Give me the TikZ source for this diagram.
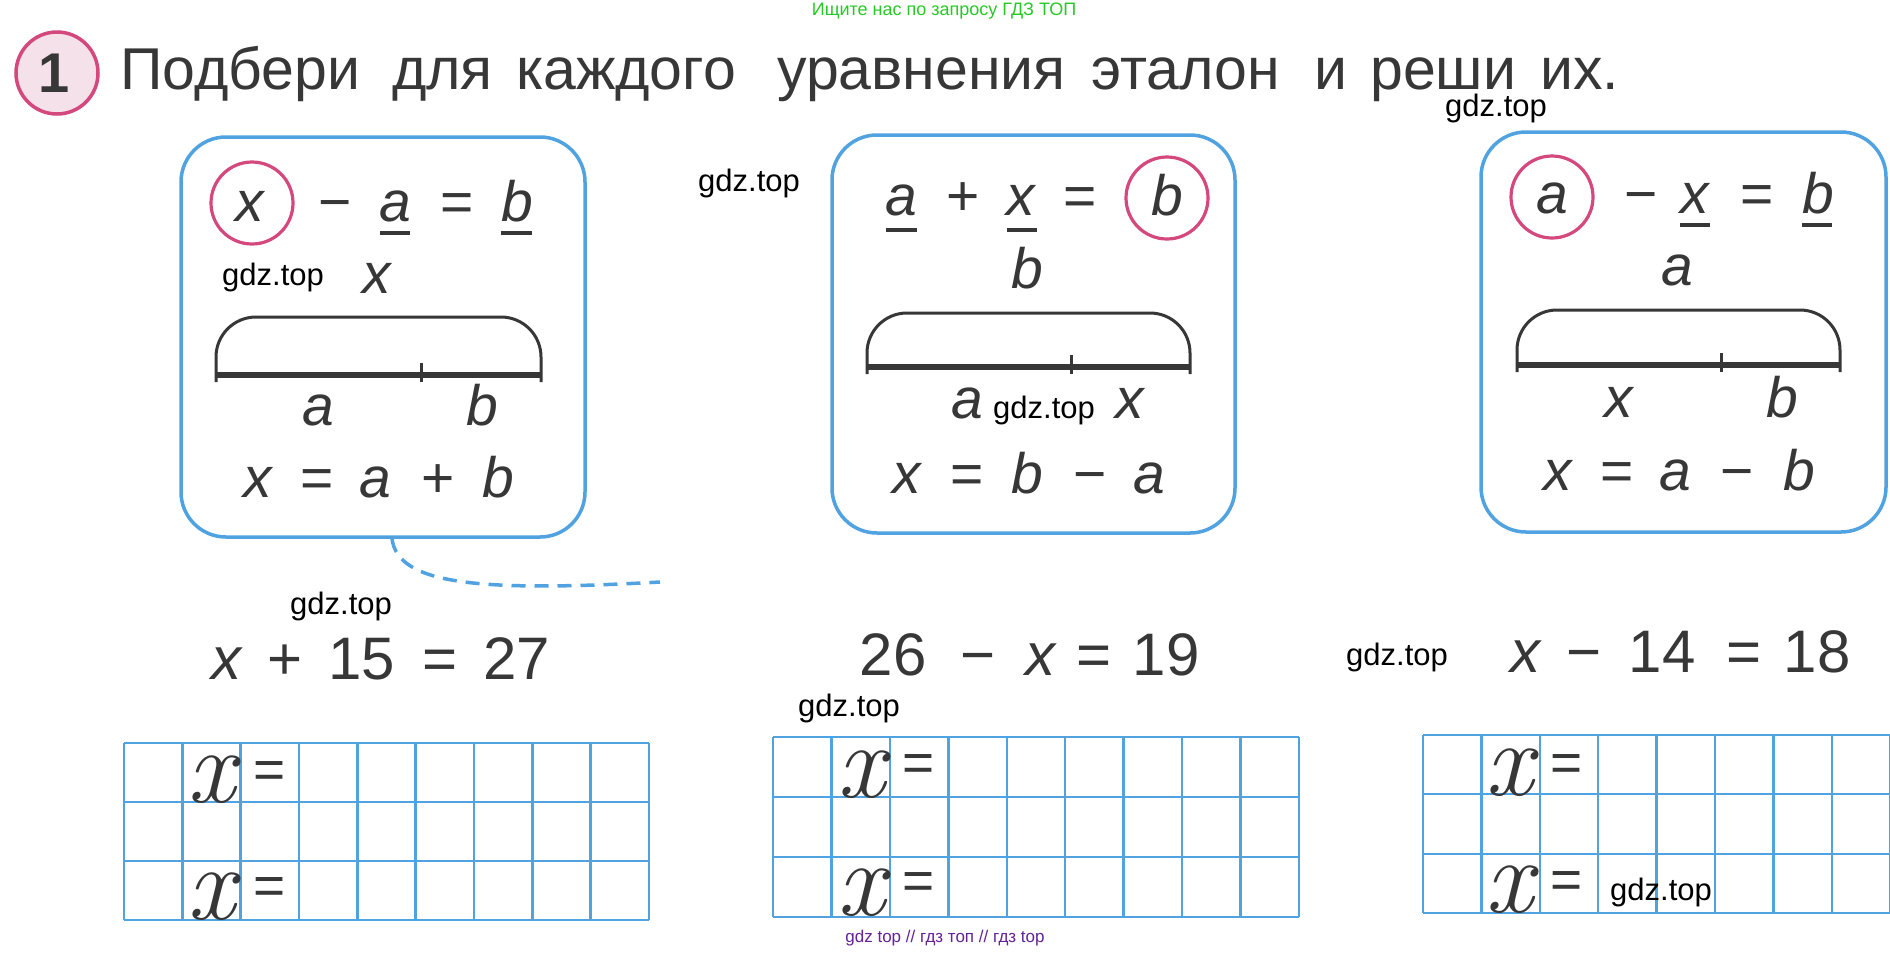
\documentclass[tikz,border=0pt]{standalone}
\usepackage{fontspec}
\setmainfont{Liberation Sans}
\newfontfamily\lmroman{Latin Modern Roman}
\definecolor{ink}{RGB}{55,55,55}
\definecolor{boxblue}{RGB}{80,163,224}
\definecolor{ringpink}{RGB}{212,72,125}
\definecolor{pinkfill}{RGB}{245,225,233}
\definecolor{wmgreen}{RGB}{40,200,40}
\definecolor{wmpurple}{RGB}{100,35,150}
\newcommand\fs[1]{\fontsize{#1}{#1}\selectfont}
\newcommand\segbr[5]{%
  \draw[brk] (#1,#4+7) -- (#1,#3) -- (#2,#3) -- (#2,#4+7);
  \draw[segline] (#1,#4) -- (#2,#4);
  \draw[ticksty] (#5,#4-12) -- (#5,#4+7);
}
\tikzset{
  etalon/.style={draw=boxblue, line width=3.5pt, rounded corners=45pt, inner sep=0pt},
  ring/.style={circle, draw=ringpink, line width=3.2pt, minimum size=82pt, inner sep=0pt},
  numring/.style={circle, draw=ringpink, fill=pinkfill, line width=3.5pt, minimum size=82pt, inner sep=0pt},
  numtxt/.style={anchor=base, inner sep=0pt, text=ink, font={\fs{56}\bfseries}},
  title/.style={anchor=base west, inner sep=0pt, text=ink, font={\fs{59}}},
  var/.style={anchor=base, inner sep=0pt, text=ink, font={\fs{57}\itshape}},
  op/.style={anchor=base, inner sep=0pt, text=ink, font={\fs{57}}},
  bvar/.style={anchor=base, inner sep=0pt, text=ink, font={\fs{60}\itshape}},
  bop/.style={anchor=base, inner sep=0pt, text=ink, font={\fs{60}}},
  uline/.style={draw=ink, line width=3.5pt},
  brk/.style={draw=ink, line width=3pt, rounded corners=40pt},
  segline/.style={draw=ink, line width=5.5pt},
  ticksty/.style={draw=ink, line width=3pt},
  gl/.style={draw=boxblue, line width=2.5pt},
  curx/.style={anchor=base, inner sep=0pt, text=ink, font={\lmroman\fs{106}\itshape}},
  geq/.style={anchor=center, inner sep=0pt, text=ink, font={\fs{55}}},
  wm/.style={anchor=base west, inner sep=0pt, text=black, font={\fs{31}}},
  wmg/.style={inner sep=0pt, text=wmgreen, font={\fs{18}}},
  wmp/.style={inner sep=0pt, text=wmpurple, font={\fs{17}}},
  dashcon/.style={draw=boxblue, line width=3.5pt, dash pattern=on 14pt off 9pt},
}
\begin{document}
\begin{tikzpicture}[x=1pt,y=-1pt]
\fill[white] (0,0) rectangle (1890,954);
\useasboundingbox (0,0) rectangle (1890,954);

% watermarks top/bottom
\node[wmg] (wmtop) at (944,11) {Ищите нас по запросу ГДЗ ТОП};
\node[wmp] (wmbot) at (945,938) {gdz top // гдз топ // гдз top};

% title
\node[numring] (numring) at (57,73) {};
\node[numtxt] (num) at (54,92) {1};
\node[title] (w1) at (120,89) {Подбери};
\node[title] (w2) at (392,89) {для};
\node[title] (w3) at (516,89) {каждого};
\node[title] (w4) at (777,89) {уравнения};
\node[title] (w5) at (1091,89) {эталон};
\node[title] (w6) at (1314,89) {и};
\node[title] (w7) at (1370,89) {реши};
\node[title] (w8) at (1540,89) {их.};

% ---------- box 1 ----------
\node[etalon, minimum width=404pt, minimum height=400pt] (box1) at (383,337) {};
\node[ring] (ring1) at (252,203) {};
\node[var] (e1x) at (250,221) {x};
\node[op] (e1m) at (335,221) {−};
\node[var] (e1a) at (395,221) {a};
\node[op] (e1q) at (457,221) {=};
\node[var] (e1b) at (517,221) {b};
\draw[uline] (380,233) -- (410,233);
\draw[uline] (501,233) -- (532,233);
\node[var] (l1top) at (377,293) {x};
\segbr{216}{541}{317}{375}{421}
\node[var] (l1a) at (318,425) {a};
\node[var] (l1b) at (482,425) {b};
\node[var] (f1x) at (258,497) {x};
\node[op] (f1q) at (317,497) {=};
\node[var] (f1a) at (375,497) {a};
\node[op] (f1p) at (438,497) {+};
\node[var] (f1b) at (498,497) {b};

% ---------- box 2 ----------
\node[etalon, minimum width=403pt, minimum height=398pt] (box2) at (1033.5,334) {};
\node[var] (e2a) at (901,215) {a};
\node[op] (e2p) at (963,215) {+};
\node[var] (e2x) at (1021,215) {x};
\node[op] (e2q) at (1080,215) {=};
\node[ring] (ring2) at (1167,198) {};
\node[var] (e2b) at (1167,215) {b};
\draw[uline] (886,230) -- (917,230);
\draw[uline] (1007,230) -- (1037,230);
\node[var] (l2top) at (1027,288) {b};
\segbr{867}{1190}{313}{367}{1071}
\node[var] (l2a) at (967,418) {a};
\node[var] (l2x) at (1130,418) {x};
\node[var] (f2x) at (907,493) {x};
\node[op] (f2q) at (967,493) {=};
\node[var] (f2b) at (1027,493) {b};
\node[op] (f2m) at (1090,493) {−};
\node[var] (f2a) at (1149,493) {a};

% ---------- box 3 ----------
\node[etalon, minimum width=405pt, minimum height=400pt] (box3) at (1683.5,332) {};
\node[ring] (ring3) at (1552,197) {};
\node[var] (e3a) at (1552,213) {a};
\node[op] (e3m) at (1641,213) {−};
\node[var] (e3x) at (1695,213) {x};
\node[op] (e3q) at (1757,213) {=};
\node[var] (e3b) at (1818,213) {b};
\draw[uline] (1680,225) -- (1710,225);
\draw[uline] (1802,225) -- (1832,225);
\node[var] (l3top) at (1677,285) {a};
\segbr{1517}{1840}{310}{365}{1721}
\node[var] (l3x) at (1619,417) {x};
\node[var] (l3b) at (1782,417) {b};
\node[var] (f3x) at (1558,490) {x};
\node[op] (f3q) at (1617,490) {=};
\node[var] (f3a) at (1675,490) {a};
\node[op] (f3m) at (1737,490) {−};
\node[var] (f3b) at (1799,490) {b};

% dashed connector
\coordinate (dashend) at (660,582);
\draw[dashcon] ([xshift=9pt]box1.south) .. controls (398,585) and (480,592) .. (dashend);

% ---------- equations ----------
\node[bvar] (q1x) at (226,679) {x};
\node[bop] (q1p) at (285,679) {+};
\node[bop] (q1n) at (362,679) {15};
\node[bop] (q1q) at (440,679) {=};
\node[bop] (q1r) at (517,679) {27};

\node[bop] (q2n) at (893,675) {26};
\node[bop] (q2m) at (978,675) {−};
\node[bvar] (q2x) at (1040,675) {x};
\node[bop] (q2q) at (1094,675) {=};
\node[bop] (q2r) at (1166,675) {19};

\node[bvar] (q3x) at (1525,672) {x};
\node[bop] (q3m) at (1584,672) {−};
\node[bop] (q3n) at (1662,672) {14};
\node[bop] (q3q) at (1744,672) {=};
\node[bop] (q3r) at (1817,672) {18};

% ---------- grids ----------
\foreach \i in {0,...,9} \draw[gl] (124+\i*58.33,743) -- (124+\i*58.33,920);
\foreach \j in {743,802,861,920} \draw[gl] (124,\j) -- (649,\j);
\foreach \i in {0,...,9} \draw[gl] (773+\i*58.44,737) -- (773+\i*58.44,917);
\foreach \j in {737,797,857,917} \draw[gl] (773,\j) -- (1299,\j);
\foreach \i in {0,...,8} \draw[gl] (1423+\i*58.4,735) -- (1423+\i*58.4,913);
\foreach \j in {735,794,854,913} \draw[gl] (1423,\j) -- (1890,\j);

\node[curx] (g1x1) at (211,802) {x};
\node[geq] (g1q1) at (270,775) {=};
\node[curx] (g1x2) at (211,919) {x};
\node[geq] (g1q2) at (270,891) {=};
\node[curx] (g2x1) at (861,797) {x};
\node[geq] (g2q1) at (919,768) {=};
\node[curx] (g2x2) at (861,915) {x};
\node[geq] (g2q2) at (919,886) {=};
\node[curx] (g3x1) at (1509,795) {x};
\node[geq] (g3q1) at (1567,768) {=};
\node[curx] (g3x2) at (1509,912) {x};
\node[geq] (g3q2) at (1567,885) {=};

% ---------- gdz.top marks ----------
\node[wm] (m1) at (1445,116) {gdz.top};
\node[wm] (m2) at (698,191) {gdz.top};
\node[wm] (m3) at (222,285) {gdz.top};
\node[wm] (m4) at (993,418) {gdz.top};
\node[wm] (m5) at (290,614) {gdz.top};
\node[wm] (m6) at (798,716) {gdz.top};
\node[wm] (m7) at (1346,665) {gdz.top};
\node[wm] (m8) at (1610,900) {gdz.top};
\end{tikzpicture}
\end{document}
